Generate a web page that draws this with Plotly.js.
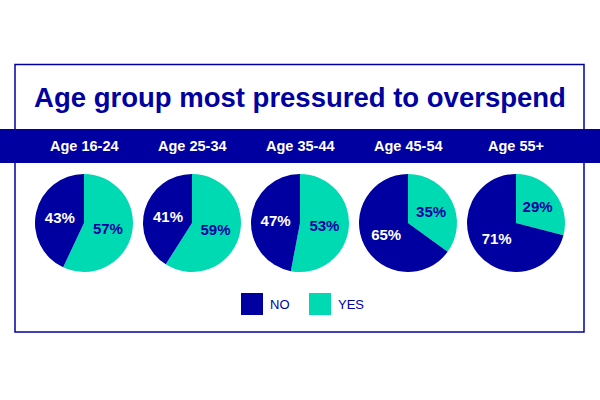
<!DOCTYPE html>
<html>
<head>
<meta charset="utf-8">
<script src="https://cdn.plot.ly/plotly-3.0.1.min.js"></script>
<style>html,body{margin:0;padding:0;background:#fff;}#chart{width:600px;height:400px;}</style>
</head>
<body>
<div id="chart"></div>
<script>
const categories = ["Age 16-24", "Age 25-34", "Age 35-44", "Age 45-54", "Age 55+"];
const seriesNames = ["NO", "YES"];
const noValues = [43, 41, 47, 65, 71];
const yesValues = [57, 59, 53, 35, 29];

const DARK = "#0000A0";
const TEAL = "#00DAB3";
const FONT = "Liberation Sans, Arial, sans-serif";

const W = 600, H = 400;
const centersX = [84, 192, 300, 408, 516];
const centerY = 223, R = 49;

// YES slice first, drawn clockwise from 12 o'clock; NO fills the remaining (left) part
const traces = categories.map((c, i) => ({
  type: "pie",
  name: c,
  labels: [seriesNames[1], seriesNames[0]],
  values: [yesValues[i], noValues[i]],
  sort: false,
  direction: "clockwise",
  rotation: 0,
  marker: {colors: [TEAL, DARK], line: {width: 0}},
  texttemplate: "%{value}%",
  textposition: "inside",
  insidetextorientation: "horizontal",
  insidetextfont: {family: FONT, size: 15, color: [DARK, "#ffffff"], weight: "bold"},
  hoverinfo: "label+value",
  showlegend: false,
  domain: {
    x: [(centersX[i] - R) / W, (centersX[i] + R) / W],
    y: [1 - (centerY + R) / H, 1 - (centerY - R) / H]
  }
}));

const shapes = [
  {type: "rect", xref: "paper", yref: "paper", x0: 15 / W, x1: 584 / W, y0: 1 - 332 / H, y1: 1 - 64.5 / H,
   line: {color: DARK, width: 1.5}, fillcolor: "rgba(0,0,0,0)", layer: "below"},
  {type: "rect", xref: "paper", yref: "paper", x0: 0, x1: 1, y0: 1 - 163 / H, y1: 1 - 129 / H,
   line: {width: 0}, fillcolor: DARK, layer: "below"},
  // legend swatches
  {type: "rect", xref: "paper", yref: "paper", x0: 241 / W, x1: 263 / W, y0: 1 - 315 / H, y1: 1 - 293 / H,
   line: {width: 0}, fillcolor: DARK},
  {type: "rect", xref: "paper", yref: "paper", x0: 309 / W, x1: 331 / W, y0: 1 - 315 / H, y1: 1 - 293 / H,
   line: {width: 0}, fillcolor: TEAL}
];

const annotations = categories.map((c, i) => ({
  text: "<b>" + c + "</b>", xref: "paper", yref: "paper",
  x: centersX[i] / W, y: 1 - 146 / H, xanchor: "center", yanchor: "middle",
  showarrow: false, font: {family: FONT, size: 14.5, color: "#ffffff"}
}));
annotations.push(
  {text: seriesNames[0], xref: "paper", yref: "paper", x: 268 / W, y: 1 - 304 / H, xanchor: "left", yanchor: "middle",
   showarrow: false, font: {family: FONT, size: 13, color: DARK}},
  {text: seriesNames[1], xref: "paper", yref: "paper", x: 336 / W, y: 1 - 304 / H, xanchor: "left", yanchor: "middle",
   showarrow: false, font: {family: FONT, size: 13, color: DARK}}
);

const layout = {
  width: W, height: H,
  margin: {l: 0, r: 0, t: 0, b: 0},
  paper_bgcolor: "#ffffff",
  title: {text: "<b>Age group most pressured to overspend</b>", x: 0.5, xanchor: "center",
          y: 1 - 97 / H, yanchor: "middle", yref: "paper",
          font: {family: FONT, size: 27.5, color: DARK}},
  showlegend: false,
  shapes: shapes,
  annotations: annotations
};

Plotly.newPlot("chart", traces, layout, {displayModeBar: false, staticPlot: true});
</script>
</body>
</html>
